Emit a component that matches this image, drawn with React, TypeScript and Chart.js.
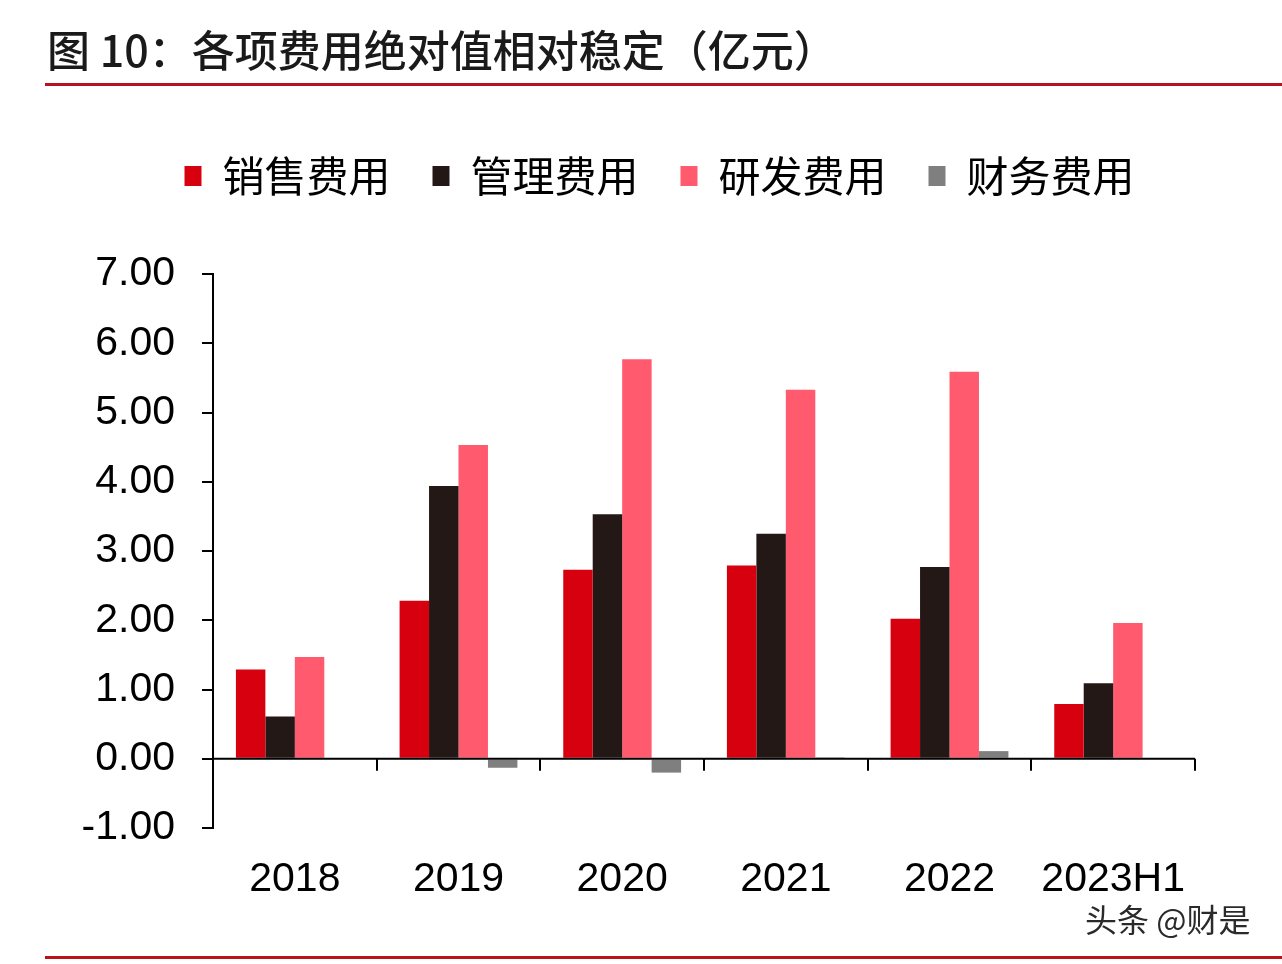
import React, { useEffect, useRef } from "react";
import { Chart, registerables } from "chart.js";

Chart.register(...registerables);

const categories = ["2018", "2019", "2020", "2021", "2022", "2023H1"];
const seriesNames = ["销售费用", "管理费用", "研发费用", "财务费用"];
const salesExpense = [1.29, 2.28, 2.73, 2.79, 2.02, 0.79];
const adminExpense = [0.61, 3.94, 3.53, 3.25, 2.77, 1.09];
const rdExpense = [1.47, 4.53, 5.77, 5.33, 5.59, 1.96];
const financeExpense = [0.0, -0.13, -0.2, 0.02, 0.11, 0.0];
const seriesColors = ["#D7000F", "#231815", "#FF5A6E", "#7F7F7F"];
const yMin = -1;
const yMax = 7;
const yStep = 1;

const titleText = "图 10：各项费用绝对值相对稳定（亿元）";
const watermarkText = "头条 @财是";

const NUM_FONT = "'Liberation Sans', Arial, sans-serif";
const CJK_FONT = "'Noto Sans CJK SC', 'Noto Sans', sans-serif";

const zeroAxisPlugin = {
  id: "zeroAxis",
  afterDatasetsDraw(chart: any) {
    const { ctx, chartArea, scales } = chart;
    const x = scales.x;
    const y = scales.y;
    const y0 = y.getPixelForValue(0);
    ctx.save();
    ctx.strokeStyle = "#000";
    ctx.lineWidth = 2;
    ctx.beginPath();
    ctx.moveTo(chartArea.left, y0);
    ctx.lineTo(chartArea.right, y0);
    for (let i = 0; i <= categories.length; i++) {
      const px = Math.round(x.getPixelForValue(i - 0.5));
      ctx.moveTo(px, y0);
      ctx.lineTo(px, y0 + 12);
    }
    ctx.stroke();
    ctx.restore();
  },
};

const legendSpacingPlugin = {
  id: "legendSpacing",
  beforeInit(chart: any) {
    const legend = chart.legend;
    if (!legend) return;
    const origFit = legend.fit;
    legend.fit = function () {
      origFit.call(this);
      this.height += 67;
    };
  },
  afterLayout(chart: any) {
    const legend = chart.legend;
    if (!legend) return;
    legend.left += 26;
    legend.right += 26;
  },
};

export default function App() {
  const canvasRef = useRef<HTMLCanvasElement | null>(null);

  useEffect(() => {
    if (!canvasRef.current) return;
    const chart = new Chart(canvasRef.current, {
      type: "bar",
      data: {
        labels: categories,
        datasets: [
          { label: seriesNames[0], data: salesExpense, backgroundColor: seriesColors[0] },
          { label: seriesNames[1], data: adminExpense, backgroundColor: seriesColors[1] },
          { label: seriesNames[2], data: rdExpense, backgroundColor: seriesColors[2] },
          { label: seriesNames[3], data: financeExpense, backgroundColor: seriesColors[3] },
        ],
      },
      options: {
        responsive: false,
        animation: false,
        devicePixelRatio: 1,
        datasets: {
          bar: {
            categoryPercentage: 0.72,
            barPercentage: 1.0,
            borderWidth: 0,
          },
        },
        layout: { padding: { top: 113, left: 72, right: 87, bottom: 0 } },
        plugins: {
          tooltip: { enabled: false },
          legend: {
            display: true,
            position: "top",
            align: "center",
            labels: {
              boxWidth: 17,
              boxHeight: 20,
              padding: 42,
              color: "#000",
              font: { family: CJK_FONT, size: 42 },
            },
          },
        },
        scales: {
          x: {
            type: "category",
            offset: true,
            grid: { display: false, drawTicks: false },
            border: { display: false },
            ticks: {
              color: "#000",
              padding: 27,
              maxRotation: 0,
              autoSkip: false,
              font: { family: NUM_FONT, size: 41 },
            },
            afterFit: (s: any) => {
              s.height = 136;
            },
          },
          y: {
            min: yMin,
            max: yMax,
            ticks: {
              stepSize: yStep,
              color: "#000",
              padding: 27,
              font: { family: NUM_FONT, size: 41 },
              callback: (v: any) => Number(v).toFixed(2),
            },
            grid: {
              drawOnChartArea: false,
              drawTicks: true,
              tickLength: 11,
              color: "#000",
              lineWidth: 2,
            },
            border: { display: true, color: "#000", width: 2 },
            afterFit: (s: any) => {
              s.width = 141;
            },
          },
        },
      },
      plugins: [legendSpacingPlugin, zeroAxisPlugin],
    });
    return () => chart.destroy();
  }, []);

  return (
    <div
      style={{
        position: "fixed",
        left: 0,
        top: 0,
        width: 1282,
        height: 964,
        background: "#fff",
        overflow: "hidden",
      }}
    >
      <canvas
        ref={canvasRef}
        width={1282}
        height={964}
        style={{ position: "absolute", left: 0, top: 0, width: 1282, height: 964 }}
      />
      <div
        style={{
          position: "absolute",
          left: 47,
          top: 23,
          fontFamily: CJK_FONT,
          fontSize: 43,
          lineHeight: "50px",
          fontWeight: 500,
          color: "#1a1a1a",
          whiteSpace: "nowrap",
        }}
      >
        {titleText}
      </div>
      <div
        style={{
          position: "absolute",
          left: 45,
          top: 83,
          width: 1237,
          height: 3,
          background: "#B8121B",
        }}
      />
      <div
        style={{
          position: "absolute",
          left: 45,
          top: 956,
          width: 1237,
          height: 3,
          background: "#B8121B",
        }}
      />
      <div
        style={{
          position: "absolute",
          left: 1085,
          top: 899,
          fontFamily: CJK_FONT,
          fontSize: 32,
          lineHeight: "38px",
          color: "#2a2a2a",
          whiteSpace: "nowrap",
          textShadow: "1px 1px 0 #fff, -1px -1px 0 #fff, 1px -1px 0 #fff, -1px 1px 0 #fff",
        }}
      >
        {watermarkText}
      </div>
    </div>
  );
}
